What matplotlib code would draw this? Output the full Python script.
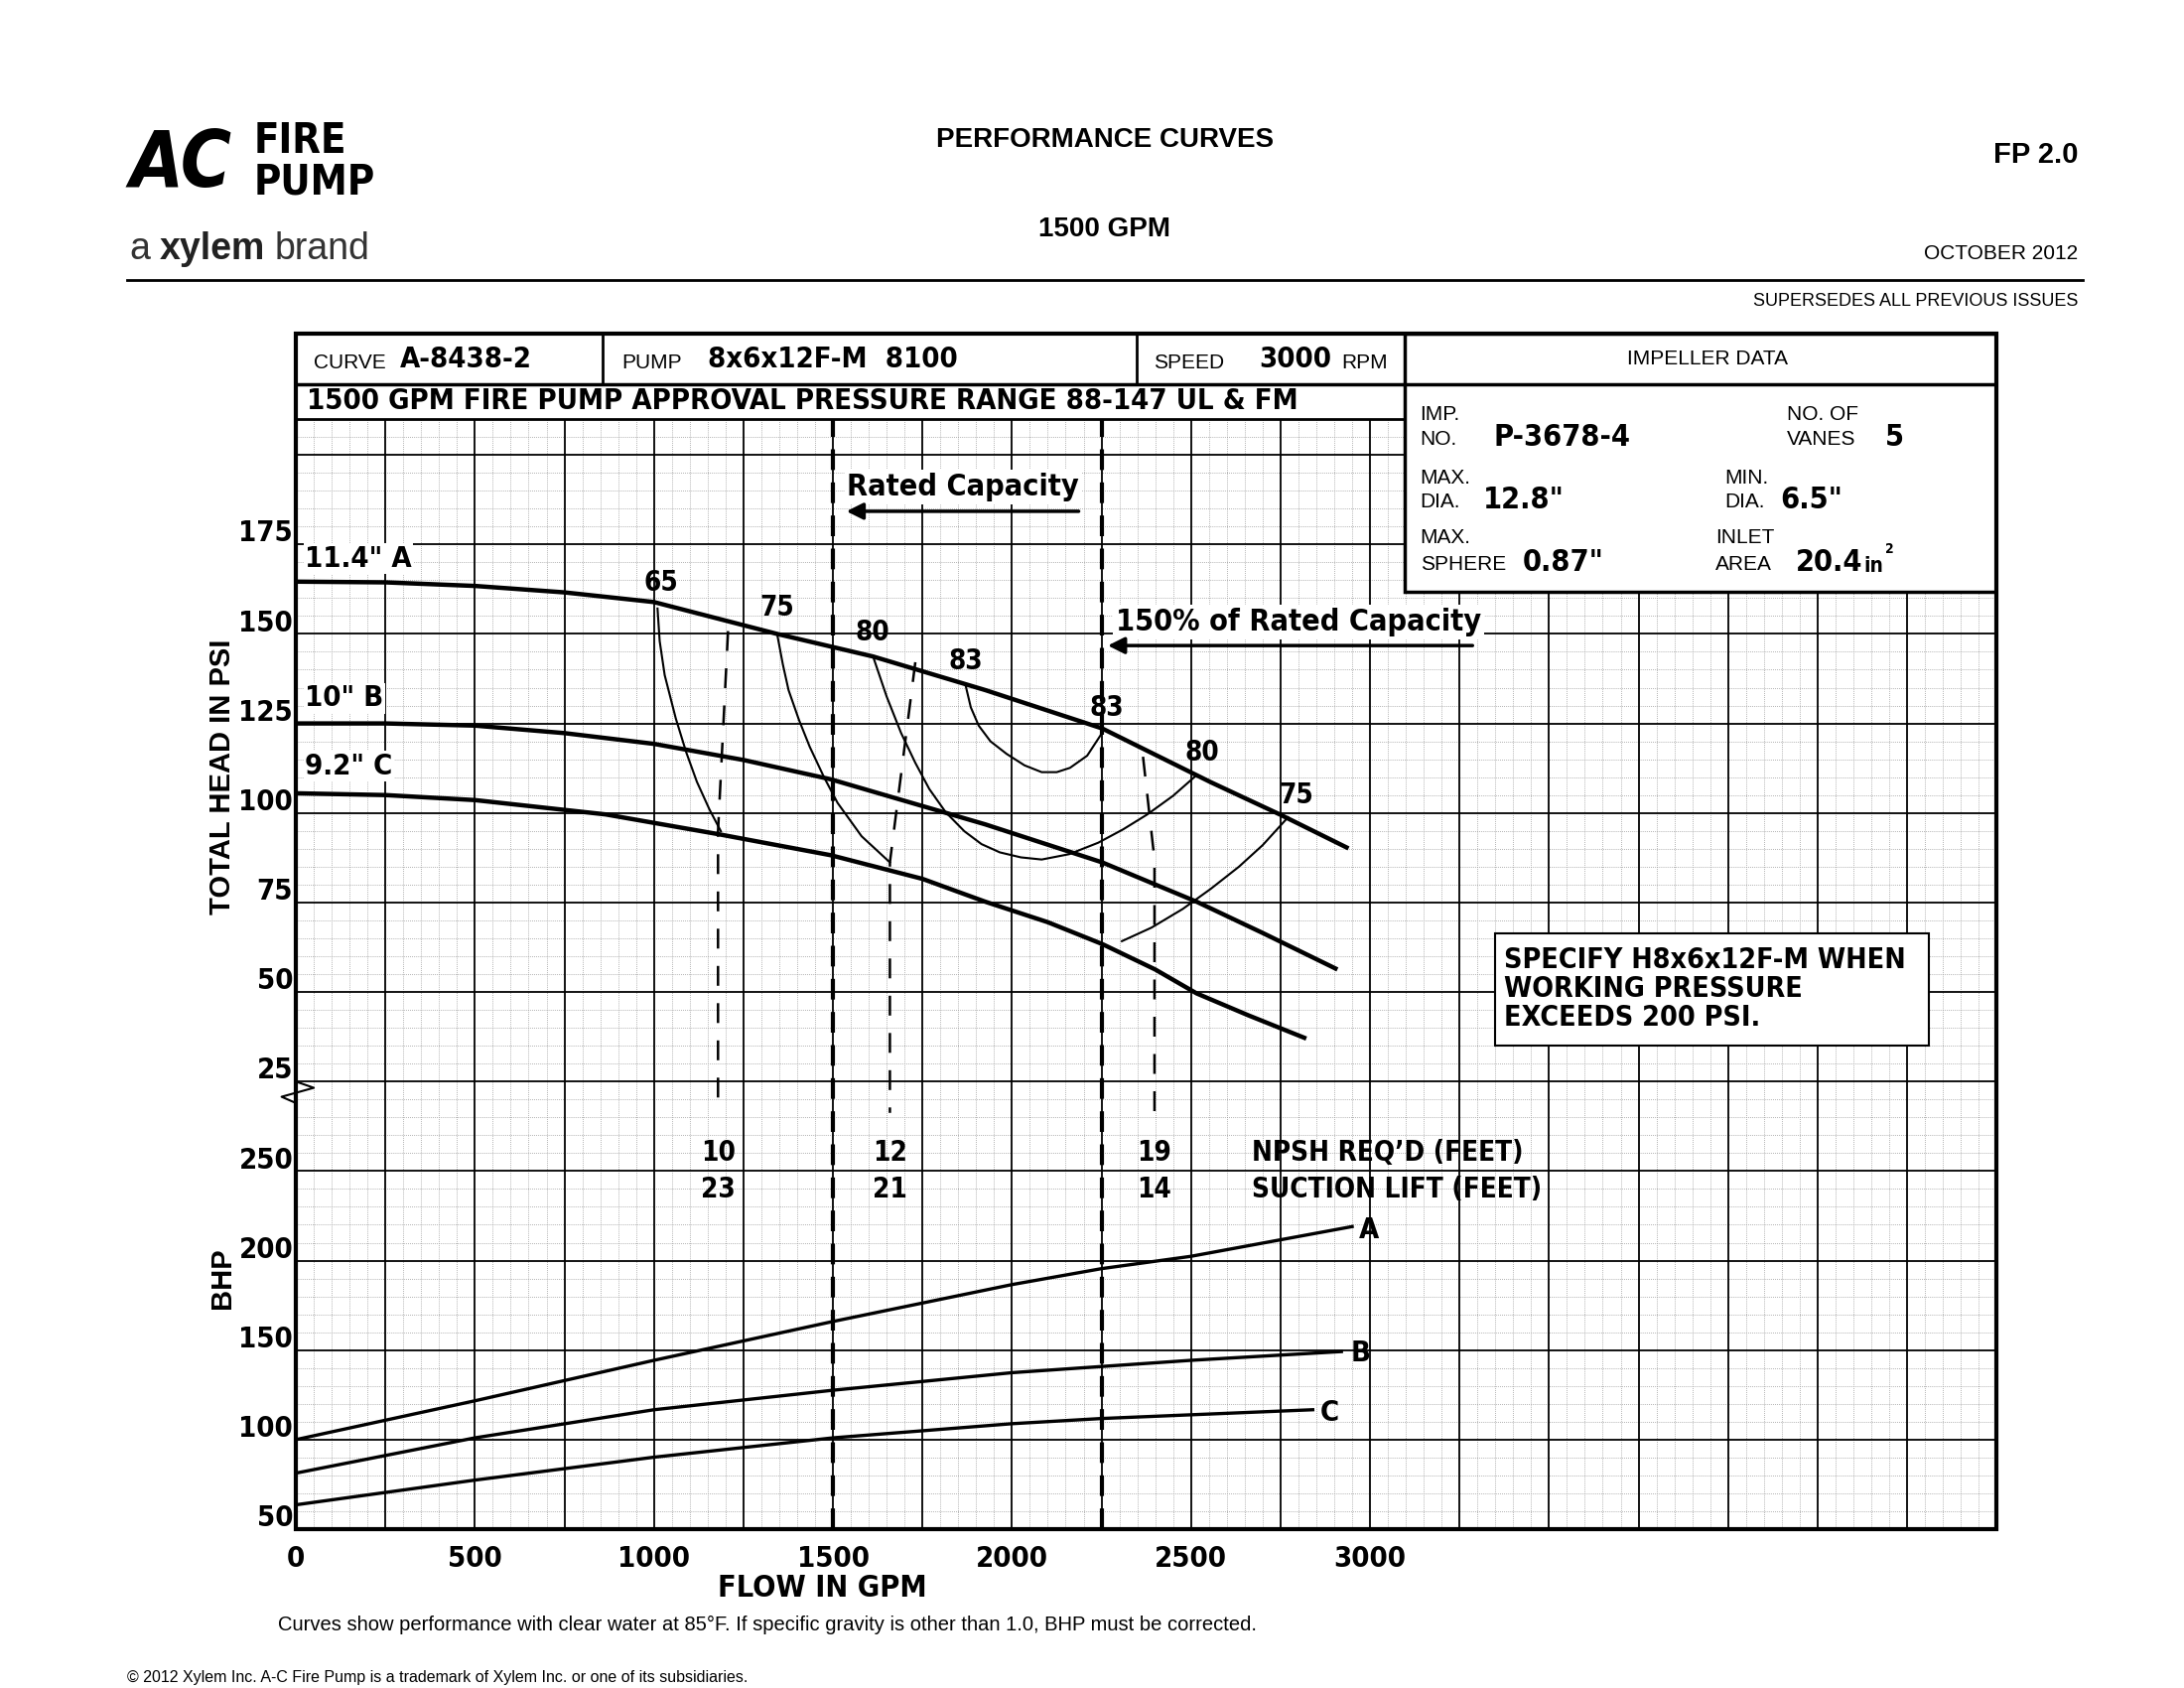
import numpy as np
import matplotlib as mpl
import matplotlib.pyplot as plt
from matplotlib.patches import Rectangle

mpl.rcParams['font.family'] = ['Liberation Sans', 'DejaVu Sans']
NARROW = ['DejaVu Sans']

# ---- data (flow GPM, head psi / BHP) ----
flow_A = [0, 250, 500, 750, 1000, 1344, 1612, 1926, 2252, 2555, 2750, 2940]
head_A = [164.6, 164.4, 163.4, 161.6, 158.9, 150.0, 143.7, 134.3, 123.6, 108.6, 99.5, 90.1]
flow_B = [0, 250, 500, 750, 1000, 1250, 1494, 1926, 2252, 2516, 2700, 2909]
head_B = [125.0, 125.0, 124.4, 122.3, 119.3, 114.8, 109.4, 96.8, 86.2, 75.2, 66.5, 56.3]
flow_C = [0, 250, 500, 865, 1179, 1494, 1750, 1926, 2100, 2252, 2400, 2516, 2660, 2822]
head_C = [105.5, 105.0, 103.6, 99.6, 94.1, 88.2, 81.6, 75.2, 69.5, 63.4, 56.3, 49.6, 43.5, 37.0]

bflow_A = [0, 500, 1000, 1500, 2000, 2250, 2500, 2950]
bhp_A = [100, 121.7, 144.3, 166, 186.6, 195.5, 202.4, 219]
bflow_B = [0, 500, 1000, 1500, 2000, 2500, 2920]
bhp_B = [81.3, 101, 116.7, 127.6, 137.4, 144.3, 149.2]
bflow_C = [0, 500, 1000, 1500, 2000, 2250, 2840]
bhp_C = [63.6, 77.4, 90.2, 101, 108.9, 111.8, 116.7]

eff_curves = {
    '65': ([1010, 1016, 1030, 1061, 1090, 1120, 1155, 1187],
           [157.1, 148.0, 138.5, 126.4, 117.0, 108.7, 101.0, 94.9]),
    '75a': ([1344, 1360, 1376, 1405, 1435, 1475, 1513, 1580, 1659],
            [150, 141.5, 134.3, 126.0, 118.5, 110.0, 102.8, 93.5, 86.2]),
    '75b': ([2771, 2700, 2634, 2555, 2477, 2390, 2307],
            [98.8, 91.0, 85, 78.8, 73.2, 68.0, 64.2]),
    '80': ([1612, 1650, 1690, 1730, 1769, 1815, 1867, 1915, 1966, 2025, 2083, 2160, 2241, 2310, 2378, 2450, 2516],
           [143.7, 132.5, 122.4, 114.0, 106.7, 100.2, 94.9, 91.3, 89, 87.6, 87, 88.5, 91.7, 95.4, 99.6, 104.8, 110.6]),
    '83': ([1871, 1885, 1907, 1940, 1985, 2035, 2083, 2125, 2162, 2210, 2252],
           [135.4, 129.5, 124.4, 120.0, 116.5, 113.3, 111.4, 111.4, 112.6, 116.0, 122.4]),
}
eff_labels = [('65', 1020, 158.5), ('75', 1345, 151.5), ('80', 1610, 144.5), ('83', 1870, 136.5),
              ('83', 2265, 123.5), ('80', 2530, 111), ('75', 2795, 99)]

npsh_top = [(1207, 150.8), (1730, 142.1), (2366, 115.7)]
npsh_knee = [(1179, 94.9), (1659, 86.2), (2398, 87.0)]
npsh_req = ['10', '12', '19']
suction_lift = ['23', '21', '14']

head_ticks = [25, 50, 75, 100, 125, 150, 175]
bhp_ticks = [50, 100, 150, 200, 250]
flow_ticks = [0, 500, 1000, 1500, 2000, 2500, 3000]

XMAX = 4750
YTOP = 13.35


def hu(h):
    return np.asarray(h) / 25.0 + 4


def bu(b):
    return (np.asarray(b) - 50) / 50.0


fig = plt.figure(figsize=(22, 17), dpi=100, facecolor='white')
W, H = 1550.0, 1197.7


def P(x, y):
    return x / W, 1 - y / H


ax = fig.add_axes([210 / W, 1 - 1085 / H, (1417 - 210) / W, (1085 - 237) / H])
ax.set_xlim(0, XMAX)
ax.set_ylim(0, YTOP)
ax.axis('off')

grid_top = 12.4
# minor grid
for x in np.arange(50, XMAX, 50):
    if x % 250:
        ax.plot([x, x], [0, grid_top], color='#999999', lw=0.6, ls=(0, (1, 1.5)), zorder=1)
for y in np.arange(0.2, grid_top, 0.2):
    if abs(y - round(y)) > 0.05:
        ax.plot([0, XMAX], [y, y], color='#999999', lw=0.6, ls=(0, (1, 1.5)), zorder=1)
# major grid
for x in np.arange(250, XMAX, 250):
    ax.plot([x, x], [0, grid_top], color='black', lw=1.3, zorder=2)
for y in range(1, 13):
    ax.plot([0, XMAX], [y, y], color='black', lw=1.3, zorder=2)

# header rows
ax.add_patch(Rectangle((0, grid_top), 3097, YTOP - grid_top, facecolor='white', edgecolor='none', zorder=2.5))
ax.plot([0, 3097], [grid_top, grid_top], color='black', lw=2, zorder=3)
ax.plot([0, 3097], [12.79, 12.79], color='black', lw=2.5, zorder=3)
for x in [857, 2347]:
    ax.plot([x, x], [12.79, YTOP], color='black', lw=2, zorder=3)
# impeller box
ax.add_patch(Rectangle((3097, 10.47), XMAX - 3097, YTOP - 10.47, facecolor='white',
                       edgecolor='black', lw=2.5, zorder=4))
ax.plot([3097, XMAX], [12.79, 12.79], color='black', lw=2.5, zorder=5)
# outer border
ax.add_patch(Rectangle((0, 0), XMAX, YTOP, fill=False, edgecolor='black', lw=3, zorder=6, clip_on=False))

# rated capacity lines
for x in [1500, 2250]:
    ax.plot([x, x], [0, grid_top], color='black', lw=3, ls=(0, (5, 3)), zorder=5)

# head curves
for f, h in [(flow_A, head_A), (flow_B, head_B), (flow_C, head_C)]:
    ax.plot(f, hu(h), color='black', lw=3.2, solid_capstyle='butt', solid_joinstyle='round', zorder=6)
# efficiency curves
for f, h in eff_curves.values():
    ax.plot(f, hu(h), color='black', lw=1.5, solid_joinstyle='round', zorder=6)
# NPSH
for (x0, h0), (x1, h1) in zip(npsh_top, npsh_knee):
    ax.plot([x0, x1, x1], [hu(h0), hu(h1), 4.65], color='black', lw=1.8,
            ls=(0, (8, 7)), zorder=6)
# BHP curves
for f, b in [(bflow_A, bhp_A), (bflow_B, bhp_B), (bflow_C, bhp_C)]:
    ax.plot(f, bu(b), color='black', lw=2.4, solid_joinstyle='round', zorder=6)

# zigzag on left axis
ax.plot([0, 50, -40, 0], [5.0, 4.93, 4.83, 4.76], color='black', lw=1.5,
        clip_on=False, zorder=7)

nfont = dict(family=NARROW, fontweight='bold', fontstretch='condensed')
for lbl, x, h in eff_labels:
    ax.text(x, hu(h) + 0.08, lbl, ha='center', va='bottom', fontsize=20, zorder=8, **nfont)
for (x, _), a, b in zip(npsh_knee, npsh_req, suction_lift):
    ax.text(x, 4.2, a, ha='center', va='center', fontsize=20, zorder=8, **nfont)
    ax.text(x, 3.79, b, ha='center', va='center', fontsize=20, zorder=8, **nfont)
ax.text(2670, 4.2, "NPSH REQ’D (FEET)", ha='left', va='center', fontsize=20, zorder=8, **nfont)
ax.text(2670, 3.79, "SUCTION LIFT (FEET)", ha='left', va='center', fontsize=20, zorder=8, **nfont)

lblbox = dict(facecolor='white', edgecolor='none', pad=1)
ax.text(25, hu(171), '11.4" A', ha='left', va='center', fontsize=21, zorder=8, bbox=lblbox, **nfont)
ax.text(25, hu(132), '10" B', ha='left', va='center', fontsize=21, zorder=8, bbox=lblbox, **nfont)
ax.text(25, hu(113), '9.2" C', ha='left', va='center', fontsize=21, zorder=8, bbox=lblbox, **nfont)
ax.text(2970, bu(217), 'A', ha='left', va='center', fontsize=21, zorder=8, **nfont)
ax.text(2945, bu(148), 'B', ha='left', va='center', fontsize=21, zorder=8, **nfont)
ax.text(2860, bu(115), 'C', ha='left', va='center', fontsize=21, zorder=8, **nfont)

# rated capacity labels
ax.text(1540, 11.64, 'Rated Capacity', ha='left', va='center', fontsize=22, zorder=8,
        bbox=dict(facecolor='white', edgecolor='none', pad=2), **nfont)
ax.annotate('', xy=(1530, 11.37), xytext=(2194, 11.37), zorder=8,
            arrowprops=dict(arrowstyle='-|>', color='black', lw=2.5, mutation_scale=25))
ax.text(2290, 10.13, '150% of Rated Capacity', ha='left', va='center', fontsize=22, zorder=8,
        bbox=dict(facecolor='white', edgecolor='none', pad=2), **nfont)
ax.annotate('', xy=(2260, 9.87), xytext=(3294, 9.87), zorder=8,
            arrowprops=dict(arrowstyle='-|>', color='black', lw=2.5, mutation_scale=25))

# specify box
ax.add_patch(Rectangle((3349, 5.40), 4560 - 3349, 6.66 - 5.40, facecolor='white',
                       edgecolor='black', lw=1.5, zorder=7))
ax.text(3375, 6.03, 'SPECIFY H8x6x12F-M WHEN\nWORKING PRESSURE\nEXCEEDS 200 PSI.',
        ha='left', va='center', fontsize=20.5, linespacing=1.05, zorder=8, **nfont)

# header texts
ax.text(50, 13.03, 'CURVE', ha='left', va='center', fontsize=15, zorder=8)
ax.text(290, 13.07, 'A-8438-2', ha='left', va='center', fontsize=21, zorder=8, **nfont)
ax.text(910, 13.03, 'PUMP', ha='left', va='center', fontsize=15, zorder=8)
ax.text(1150, 13.07, '8x6x12F-M  8100', ha='left', va='center', fontsize=21, zorder=8, **nfont)
ax.text(2395, 13.03, 'SPEED', ha='left', va='center', fontsize=15, zorder=8)
ax.text(2690, 13.07, '3000', ha='left', va='center', fontsize=21, zorder=8, **nfont)
ax.text(2920, 13.03, 'RPM', ha='left', va='center', fontsize=15, zorder=8)
ax.text(30, 12.6, '1500 GPM FIRE PUMP APPROVAL PRESSURE RANGE 88-147 UL & FM',
        ha='left', va='center', fontsize=21, zorder=8, **nfont)
ax.text(3943, 13.07, 'IMPELLER DATA', ha='center', va='center', fontsize=15, zorder=8)

small = dict(fontsize=15, zorder=8, va='center', ha='left')
big = dict(fontsize=22, zorder=8, va='center', ha='left', **nfont)
ax.text(3140, 12.45, 'IMP.', **small)
ax.text(3140, 12.17, 'NO.', **small)
ax.text(3345, 12.2, 'P-3678-4', **big)
ax.text(4165, 12.45, 'NO. OF', **small)
ax.text(4165, 12.17, 'VANES', **small)
ax.text(4440, 12.2, '5', **big)
ax.text(3140, 11.74, 'MAX.', **small)
ax.text(3140, 11.47, 'DIA.', **small)
ax.text(3315, 11.5, '12.8"', **big)
ax.text(3990, 11.74, 'MIN.', **small)
ax.text(3990, 11.47, 'DIA.', **small)
ax.text(4145, 11.5, '6.5"', **big)
ax.text(3140, 11.07, 'MAX.', **small)
ax.text(3140, 10.78, 'SPHERE', **small)
ax.text(3425, 10.8, '0.87"', **big)
ax.text(3965, 11.07, 'INLET', **small)
ax.text(3965, 10.78, 'AREA', **small)
ax.text(4190, 10.8, '20.4', **big)
ax.text(4378, 10.76, 'in', fontsize=15, zorder=8, va='center', ha='left', **nfont)
ax.text(4440, 10.95, '2', fontsize=10, zorder=8, va='center', ha='left', **nfont)

# tick labels
for h in head_ticks:
    ax.text(-8, hu(h) + 0.12, str(h), ha='right', va='center', fontsize=21, **nfont)
for b in bhp_ticks:
    ax.text(-8, bu(b) + 0.12, str(b), ha='right', va='center', fontsize=21, **nfont)
for f in flow_ticks:
    ax.text(f, -0.33, str(f), ha='center', va='center', fontsize=21, **nfont)
ax.text(1470, -0.66, 'FLOW IN GPM', ha='center', va='center', fontsize=22, **nfont)
ax.text(-205, hu(110), 'TOTAL HEAD IN PSI', rotation=90, ha='center', va='center',
        fontsize=21, fontweight='bold')
ax.text(-205, bu(190), 'BHP', rotation=90, ha='center', va='center',
        fontsize=21, fontweight='bold')

# page texts
fig.text(*P(784, 99), 'PERFORMANCE CURVES', ha='center', va='center', fontsize=20, fontweight='bold')
fig.text(*P(784, 163), '1500 GPM', ha='center', va='center', fontsize=20, fontweight='bold')
fig.text(*P(1475, 110), 'FP 2.0', ha='right', va='center', fontsize=21, fontweight='bold')
fig.text(*P(1475, 180), 'OCTOBER 2012', ha='right', va='center', fontsize=15)
fig.text(*P(1475, 214), 'SUPERSEDES ALL PREVIOUS ISSUES', ha='right', va='center', fontsize=13)
fig.add_artist(plt.Line2D([90 / W, 1478 / W], [1 - 199 / H, 1 - 199 / H], color='black', lw=2))
fig.text(*P(197, 1153), 'Curves show performance with clear water at 85°F. If specific gravity is other than 1.0, BHP must be corrected.',
         ha='left', va='center', fontsize=14.5)
fig.text(*P(90, 1190), '© 2012 Xylem Inc. A-C Fire Pump is a trademark of Xylem Inc. or one of its subsidiaries.',
         ha='left', va='center', fontsize=11.5)
# logo
fig.text(*P(92, 117), 'AC', ha='left', va='center', fontsize=56, fontweight='heavy',
         fontstyle='italic', family=NARROW, fontstretch='condensed')
fig.text(*P(180, 100), 'FIRE', ha='left', va='center', fontsize=30, fontweight='bold',
         family=NARROW, fontstretch='condensed')
fig.text(*P(180, 129), 'PUMP', ha='left', va='center', fontsize=30, fontweight='bold',
         family=NARROW, fontstretch='condensed')
fig.text(*P(92, 177), 'a ', ha='left', va='center', fontsize=27, color='#333333')
fig.text(*P(113, 177), 'xylem', ha='left', va='center', fontsize=27, fontweight='bold', color='#222222')
fig.text(*P(195, 177), 'brand', ha='left', va='center', fontsize=27, color='#333333')

plt.savefig('out.png', dpi=100, facecolor='white')
